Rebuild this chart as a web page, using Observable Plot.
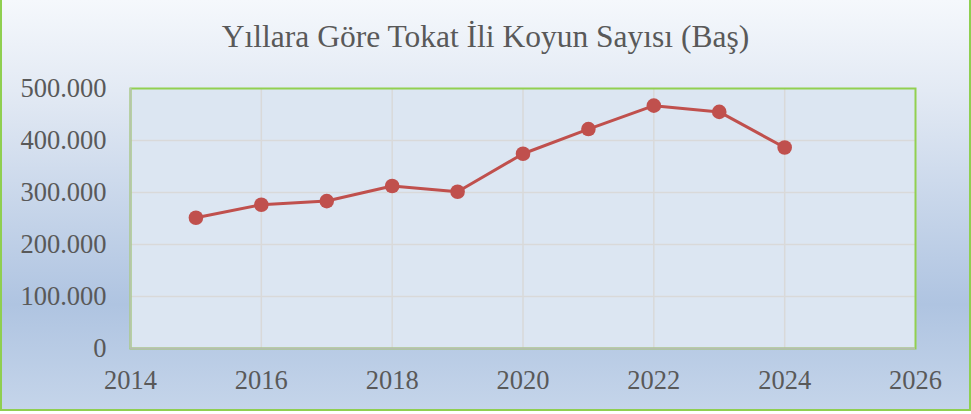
<!DOCTYPE html>
<html>
<head>
<meta charset="utf-8">
<script src="https://cdn.jsdelivr.net/npm/d3@7"></script>
<script src="https://cdn.jsdelivr.net/npm/@observablehq/plot@0.6"></script>
<style>
  html, body { margin: 0; padding: 0; background: #ffffff; }
  #chart {
    position: relative; width: 971px; height: 411px; overflow: hidden;
    background: linear-gradient(to bottom, #f5f8fc 0%, #e3eaf4 22%, #afc4e1 74%, #c5d5ea 100%);
  }
  #frame {
    position: absolute; left: 0; top: -3px; width: 971px; height: 414px;
    box-sizing: border-box; border: 2px solid #8fcf50; pointer-events: none;
  }
  #title {
    position: absolute; left: 0; top: 19px; width: 971px; text-align: center;
    font-size: 31.5px; line-height: 36px; color: #595959;
  }
  #plot { position: absolute; left: 0; top: 70px; }
</style>
</head>
<body>
<div id="chart" style="font-family:'Liberation Serif'">
  <div id="title" style="font-family:'Liberation Serif'">Yıllara Göre Tokat İli Koyun Sayısı (Baş)</div>
  <div id="plot" style="font-family:'Liberation Serif'"></div>
  <div id="frame"></div>
</div>
<script>
const years = [2015, 2016, 2017, 2018, 2019, 2020, 2021, 2022, 2023, 2024];
const sheep = [251500, 276500, 283500, 312500, 301500, 374500, 422000, 467000, 455000, 386500];
const xTicks = [2014, 2016, 2018, 2020, 2022, 2024, 2026];
const yTicks = [0, 100000, 200000, 300000, 400000, 500000];
const xGrid = [2016, 2018, 2020, 2022, 2024];
const yGrid = [100000, 200000, 300000, 400000];

const data = years.map((y, i) => ({year: y, value: sheep[i]}));
const trFormat = d3.formatLocale({decimal: ",", thousands: ".", grouping: [3], currency: ["", "₺"]}).format(",d");

const chart = Plot.plot({
  width: 971,
  height: 340,
  marginLeft: 130,
  marginRight: 56,
  marginTop: 18,
  marginBottom: 62,
  style: {
    fontFamily: "'Liberation Serif'",
    fontSize: "26.5px",
    color: "#595959",
    background: "transparent",
    overflow: "visible"
  },
  x: {domain: [2014, 2026], ticks: xTicks, tickFormat: d => String(d), tickSize: 0, tickPadding: 22, label: null},
  y: {domain: [0, 500000], ticks: yTicks, tickFormat: trFormat, tickSize: 0, tickPadding: 24, label: null},
  marks: [
    Plot.frame({fill: "#dce6f2", stroke: "none"}),
    Plot.ruleX(xGrid, {stroke: "#d9d9d9", strokeWidth: 1.5}),
    Plot.ruleY(yGrid, {stroke: "#d9d9d9", strokeWidth: 1.5}),
    Plot.frame({stroke: "#92d050", strokeWidth: 2}),
    Plot.ruleX([2014], {stroke: "#b6c6a8", strokeWidth: 2}),
    Plot.ruleY([0], {stroke: "#b7bdb0", strokeWidth: 2}),
    Plot.line(data, {x: "year", y: "value", stroke: "#c0504d", strokeWidth: 3}),
    Plot.dot(data, {x: "year", y: "value", r: 7.3, fill: "#c0504d", stroke: "none"})
  ]
});
d3.select(chart).selectAll("text").style("font-family", "'Liberation Serif'");
document.getElementById("plot").appendChild(chart);
</script>
</body>
</html>
